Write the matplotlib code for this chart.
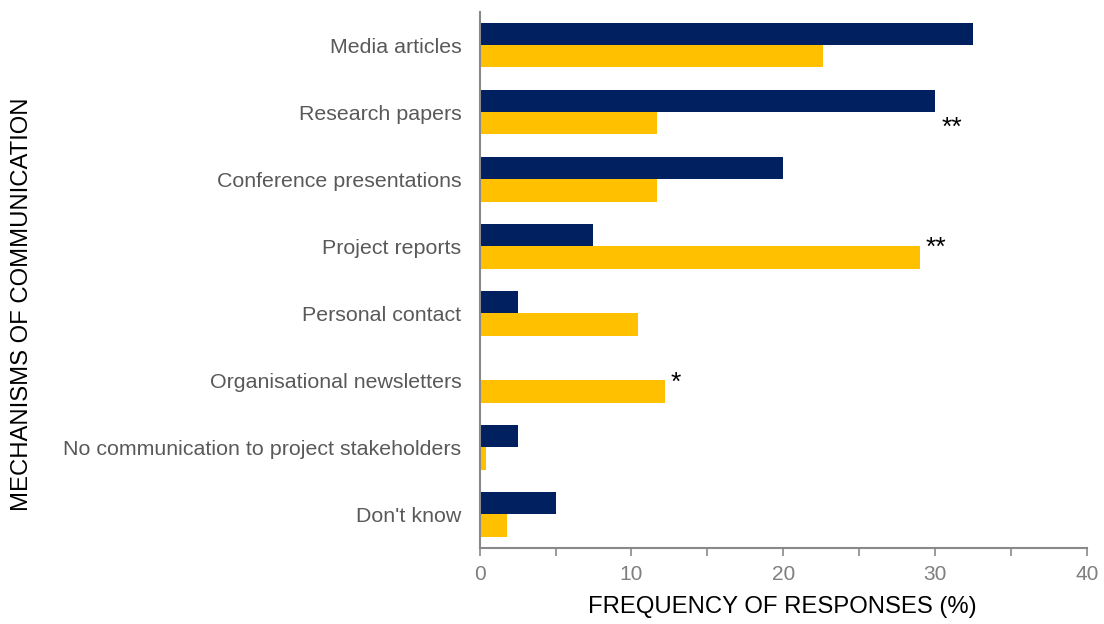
import matplotlib
matplotlib.use("Agg")
import matplotlib.pyplot as plt
import numpy as np

plt.rcParams['font.family'] = ['Liberation Sans', 'DejaVu Sans']

categories = [
    "Media articles",
    "Research papers",
    "Conference presentations",
    "Project reports",
    "Personal contact",
    "Organisational newsletters",
    "No communication to project stakeholders",
    "Don't know",
]
series_a = [32.5, 30.0, 20.0, 7.5, 2.5, 0.0, 2.5, 5.0]
series_b = [22.6, 11.7, 11.7, 29.0, 10.4, 12.2, 0.4, 1.8]
# significance markers: (category index, series the marker follows, text)
markers = [(1, "a", "**"), (3, "b", "**"), (5, "b", "*")]

navy = "#002060"
gold = "#FFC000"
axis_grey = "#898989"

fig = plt.figure(figsize=(11.04, 6.24), dpi=100)
ax = fig.add_axes([0.4344, 0.1218, 0.5502, 0.8592])

y = np.arange(len(categories))
h = 0.33
ax.barh(y - h / 2, series_a, height=h, color=navy, edgecolor="none")
ax.barh(y + h / 2, series_b, height=h, color=gold, edgecolor="none")

ax.set_ylim(len(categories) - 0.5, -0.5)
ax.set_xlim(0, 40)

ax.set_yticks(y)
ax.set_yticklabels(categories, fontsize=15.4, color="#595959")
ax.tick_params(axis="y", length=0, pad=13)

ax.set_xticks([0, 10, 20, 30, 40])
ax.set_xticks([5, 15, 25, 35], minor=True)
ax.tick_params(axis="x", which="both", direction="out", length=6, width=1.2,
               color=axis_grey, labelsize=15, labelcolor="#7f7f7f", pad=6)

for side in ("top", "right"):
    ax.spines[side].set_visible(False)
for side in ("left", "bottom"):
    ax.spines[side].set_color(axis_grey)
    ax.spines[side].set_linewidth(1.5)

fig.text(782 / 1104, 1 - 607 / 624, "FREQUENCY OF RESPONSES (%)",
         ha="center", va="center", fontsize=17.2, color="black")
fig.text(22 / 1104, 1 - 304 / 624, "MECHANISMS OF COMMUNICATION",
         rotation=90, ha="center", va="center", fontsize=17.2, color="black")

# vertical placement of each marker's baseline relative to its category
marker_dy = {1: 0.34, 3: 0.13, 5: 0.14}
for idx, which, txt in markers:
    val = series_a[idx] if which == "a" else series_b[idx]
    ax.annotate(txt, xy=(val, y[idx] + marker_dy[idx]), xytext=(4.3, 0),
                textcoords="offset points", ha="left", va="baseline",
                fontsize=19, color="black")

fig.savefig("out.png", dpi=100)
